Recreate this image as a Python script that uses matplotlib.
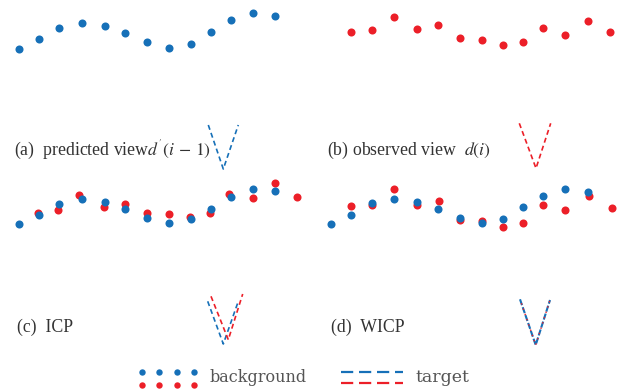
import matplotlib.pyplot as plt

# colours
blue = '#1670b8'
red = '#ec1f28'
grey = '#333333'

# point clouds, in picture units (x to the right, y downwards)
a_blue_x = [19, 39, 59.3, 81.7, 105, 125.3, 147, 169.3, 191, 210.7, 230.7, 253, 275]
a_blue_y = [48.7, 39, 27.7, 23, 25.7, 33.3, 42, 47.7, 43.7, 31.7, 20.3, 13.3, 16.3]

b_red_x = [351, 371.7, 394, 417.3, 437.7, 459.7, 481.7, 503, 523, 543.3, 565.3, 587.7, 610.3]
b_red_y = [32.3, 30.3, 17, 29.3, 25.3, 38, 39.7, 45.3, 41.7, 28.3, 35, 21.3, 32]

c_blue_x = [19, 39, 59.3, 81.7, 105, 125.3, 147, 169.3, 191, 210.7, 230.7, 253, 275]
c_blue_y = [224.3, 215, 203.7, 199, 201.7, 209.3, 217.7, 223.3, 219.3, 209, 197, 189, 191.3]
c_red_x = [37.7, 58, 79.3, 103.7, 125.3, 146.7, 169.3, 190.3, 210, 229.3, 253, 275.3, 296.7]
c_red_y = [212.7, 210, 195, 207.3, 203.7, 213, 214.3, 217, 213.3, 194, 198.3, 183.3, 197.3]

d_blue_x = [331, 351, 371.7, 394, 417.3, 437.7, 459.7, 481.7, 503, 523, 543.3, 565.3, 587.7]
d_blue_y = [224.3, 215, 203.3, 199, 201.7, 209.3, 217.7, 223.3, 219.3, 207.3, 195.7, 189.3, 192]
d_red_x = [351, 371.7, 394, 417.3, 439.3, 459.7, 481.7, 503, 523, 543.3, 565.3, 589.3, 611.7]
d_red_y = [205.7, 205, 189.3, 205, 200.7, 219.7, 220.7, 227, 222.7, 205.3, 210, 196.3, 207.7]

# "target" V shapes: left top, bottom, right top
va_x, va_y = [208.3, 223.3, 238.3], [125, 169, 125]
vb_x, vb_y = [519.3, 536, 550.7], [123.3, 168.3, 123.3]
vc_blue_x, vc_blue_y = [207.7, 223.3, 238.3], [301.3, 344, 301.3]
vc_red_x, vc_red_y = [211, 228.3, 242.7], [296.3, 339.7, 294]
vd_x, vd_y = [520, 535.7, 550], [299.3, 345, 300]

labels = ["(a)  predicted view$d^{'}(i\\,-\\,1)$",
          "(b) observed view  $d(i)$",
          "(c)  ICP",
          "(d)  WICP"]
label_pos = [(14, 150), (327, 150), (17, 327), (331, 327)]

# legend
leg_dot_x = [142, 159, 177, 194]
leg_line_x = [341, 403]

plt.rcParams['font.family'] = 'Liberation Serif'
plt.rcParams['mathtext.fontset'] = 'stix'

fig = plt.figure(figsize=(6.33, 3.91), dpi=100)
ax = fig.add_axes([0, 0, 1, 1])
ax.set_xlim(0, 633)
ax.set_ylim(391, 0)
ax.axis('off')

ms = 5.8
ax.plot(a_blue_x, a_blue_y, 'o', color=blue, ms=ms, mec='none')
ax.plot(b_red_x, b_red_y, 'o', color=red, ms=ms, mec='none')
ax.plot(c_red_x, c_red_y, 'o', color=red, ms=ms, mec='none')
ax.plot(c_blue_x, c_blue_y, 'o', color=blue, ms=ms, mec='none')
ax.plot(d_red_x, d_red_y, 'o', color=red, ms=ms, mec='none')
ax.plot(d_blue_x, d_blue_y, 'o', color=blue, ms=ms, mec='none')

lw = 1.2
dash = (3.0, 2.0)
ax.plot(va_x, va_y, color=blue, lw=lw, dashes=dash)
ax.plot(vb_x, vb_y, color=red, lw=lw, dashes=dash)
ax.plot(vc_blue_x, vc_blue_y, color=blue, lw=lw, dashes=dash)
ax.plot(vc_red_x, vc_red_y, color=red, lw=lw, dashes=dash)
ax.plot(vd_x, vd_y, color=blue, lw=1.5, dashes=(3.0, 1.0))
ax.plot(vd_x, vd_y, color=red, lw=1.0, dashes=(0, 3.0, 1.0, 0))

for txt, (x, y) in zip(labels, label_pos):
    ax.text(x, y, txt, fontsize=12.8, color=grey, ha='left', va='center')

ax.plot(leg_dot_x, [371.7] * 4, 'o', color=blue, ms=4.6, mec='none')
ax.plot(leg_dot_x, [385] * 4, 'o', color=red, ms=4.6, mec='none')
ax.plot(leg_line_x, [371.7] * 2, color=blue, lw=1.6, dashes=(5.5, 2.6))
ax.plot(leg_line_x, [383.3] * 2, color=red, lw=1.6, dashes=(5.5, 2.6))
ax.text(210, 378, 'background', fontsize=11.5, color='#555555',
        family='DejaVu Serif', ha='left', va='center')
ax.text(416, 377, 'target', fontsize=12.5, color='#555555',
        family='DejaVu Serif', ha='left', va='center')

fig.savefig('out.png', dpi=100)
